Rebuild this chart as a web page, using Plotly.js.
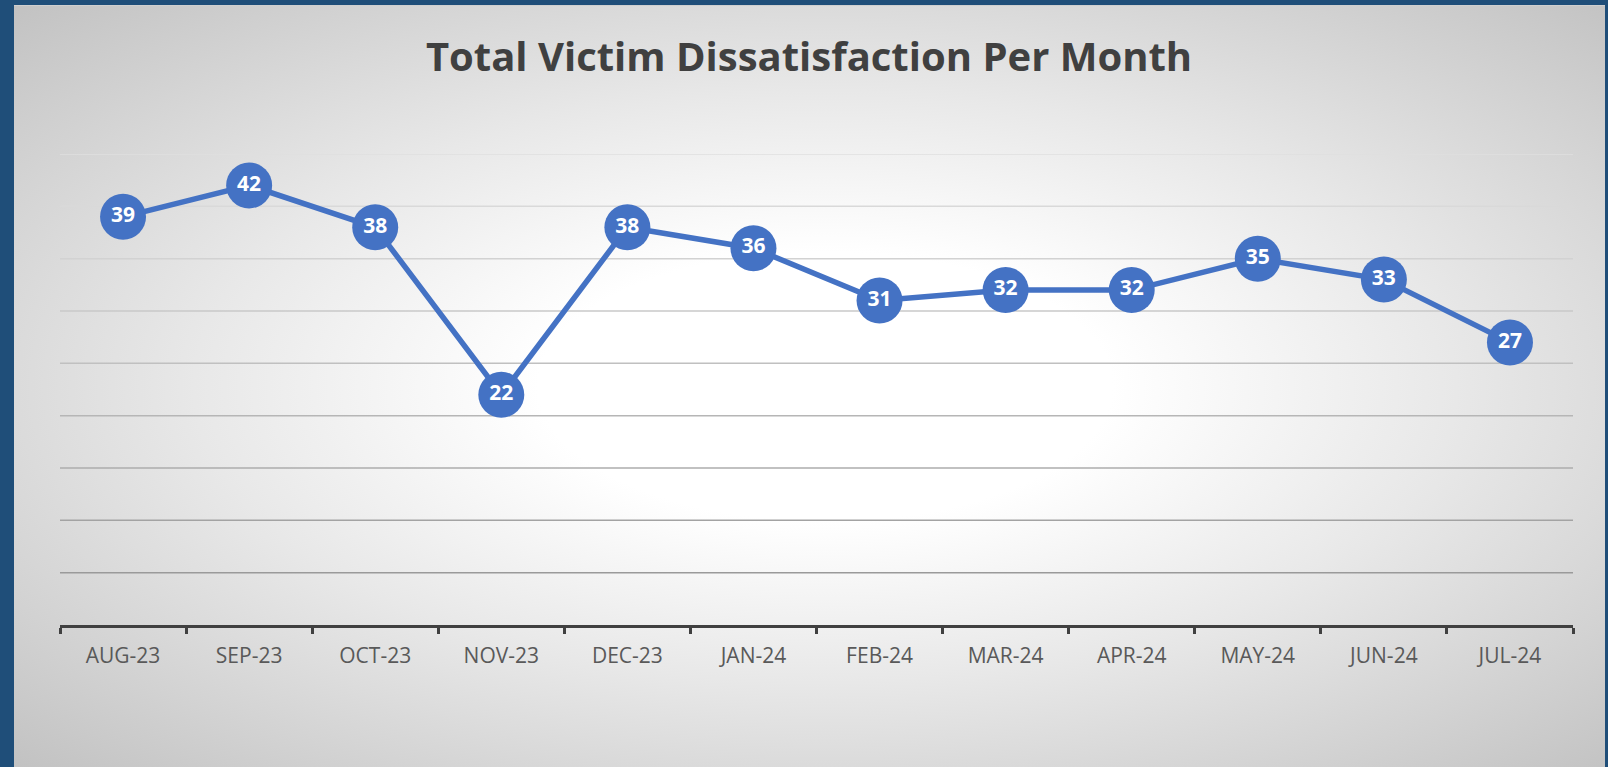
<!DOCTYPE html>
<html>
<head>
<meta charset="utf-8">
<script src="https://cdn.plot.ly/plotly-3.0.1.min.js"></script>
<style>
  html, body { margin:0; padding:0; width:1608px; height:767px; overflow:hidden; background:#1F4E79; }
  #bg { position:absolute; left:14px; top:5px; width:1591px; height:762px;
        border-top:1px solid #cfcfcf; box-sizing:border-box;
        background: radial-gradient(ellipse farthest-corner at 51% 50%, #ffffff 0%, #ffffff 25%, #e8e8e8 55%, #c2c2c2 100%); }
  #chart { position:absolute; left:0; top:0; width:1608px; height:767px; }
</style>
</head>
<body>
<div id="bg"></div>
<div id="chart"></div>
<script>
const months = ["AUG-23","SEP-23","OCT-23","NOV-23","DEC-23","JAN-24","FEB-24","MAR-24","APR-24","MAY-24","JUN-24","JUL-24"];
const dissatisfaction = [39, 42, 38, 22, 38, 36, 31, 32, 32, 35, 33, 27];
const yMax = 45;
const yStep = 5;

const gridColors = ["#9a9a9a","#a3a3a3","#acacac","#b6b6b6","#c0c0c0","#c9c9c9","#d2d2d2","#d9d9d9","#dfdfdf"];
const shapes = [];
for (let i = 1; i * yStep <= yMax; i++) {
  shapes.push({type:"line", xref:"paper", yref:"y", x0:0, x1:1, y0:i*yStep, y1:i*yStep,
    line:{color:gridColors[i-1], width:1.5}, layer:"below"});
}

const trace = {
  type:"scatter", mode:"lines+markers+text",
  x: months, y: dissatisfaction,
  text: dissatisfaction.map(String),
  textposition:"middle center",
  textfont:{family:"Open Sans", size:21, color:"#ffffff", weight:700},
  line:{color:"#4472C4", width:5.5},
  marker:{color:"#4472C4", size:46},
  hoverinfo:"skip", cliponaxis:false
};

const layout = {
  width:1608, height:767,
  paper_bgcolor:"rgba(0,0,0,0)", plot_bgcolor:"rgba(0,0,0,0)",
  margin:{l:60, r:35, t:154, b:142},
  showlegend:false,
  title:{text:"Total Victim Dissatisfaction Per Month", x:809/1608, xanchor:"center",
         y:1-57/767, yanchor:"middle",
         font:{family:"Open Sans", size:40, color:"#404040", weight:700}},
  xaxis:{type:"category", range:[-0.5, months.length-0.5], autorange:false,
         showgrid:false, zeroline:false,
         showline:true, linecolor:"#404040", linewidth:3,
         ticks:"outside", tickson:"boundaries", ticklen:6, tickwidth:3, tickcolor:"#404040",
         tickfont:{family:"Open Sans", size:21, color:"#595959"}, ticklabelstandoff:10,
         fixedrange:true},
  yaxis:{range:[0, yMax], autorange:false, dtick:yStep, showgrid:false, zeroline:false, showticklabels:false,
         showline:false, ticks:"", fixedrange:true},
  shapes: shapes
};

Plotly.newPlot("chart", [trace], layout, {displayModeBar:false, staticPlot:true});
</script>
</body>
</html>
